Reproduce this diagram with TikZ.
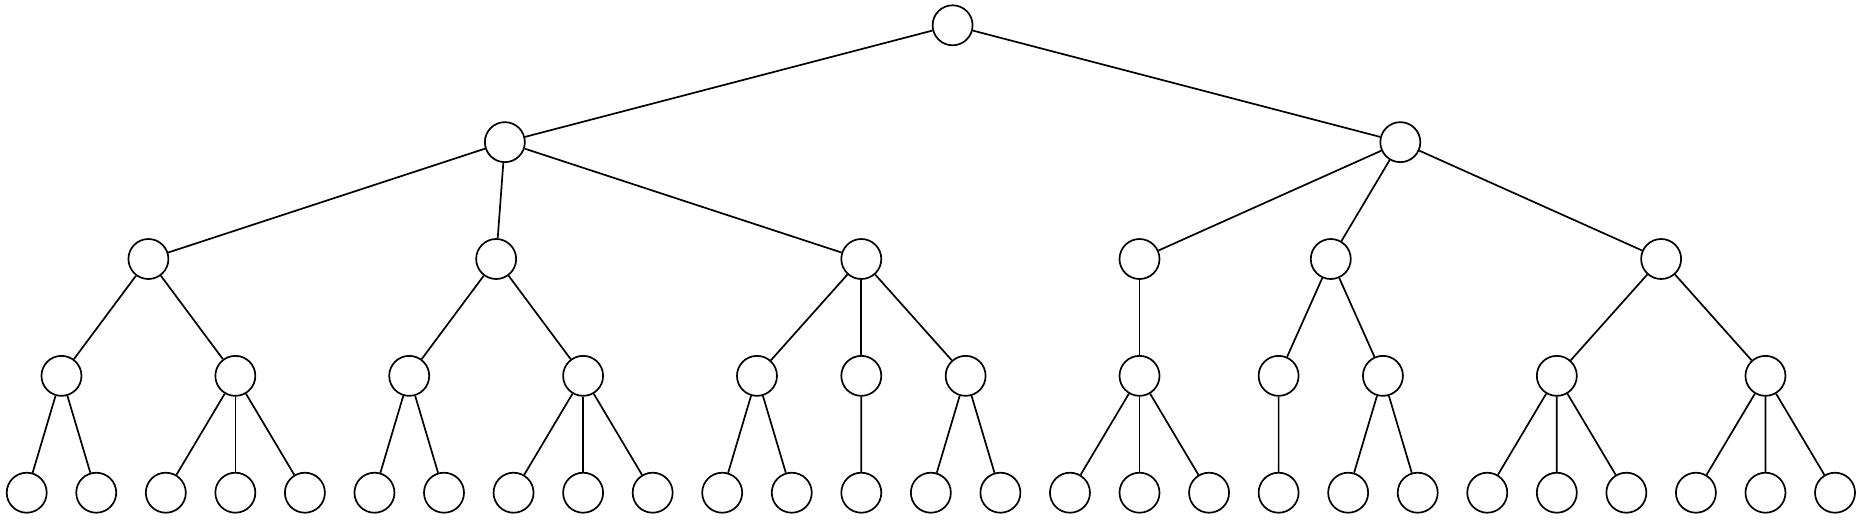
\documentclass[tikz,border=0pt]{standalone}
\begin{document}
\begin{tikzpicture}[x=0.5pt,y=-0.5pt,
  treenode/.style={circle,draw,line width=0.85pt,minimum size=20pt,inner sep=0pt},
  edge/.style={line width=0.85pt}]
\useasboundingbox (0,0) rectangle (1862,520);
% leaves
\foreach \i in {0,...,26} \node[treenode] (l\i) at ({26.7+69.55*\i},492.7) {};
% level 3
\node[treenode] (a0) at (61.475,375.85) {};
\node[treenode] (a1) at (235.35,375.85) {};
\node[treenode] (a2) at (409.225,375.85) {};
\node[treenode] (a3) at (583.1,375.85) {};
\node[treenode] (a4) at (756.975,375.85) {};
\node[treenode] (a5) at (861.3,375.85) {};
\node[treenode] (a6) at (965.625,375.85) {};
\node[treenode] (a7) at (1139.5,375.85) {};
\node[treenode] (a8) at (1278.6,375.85) {};
\node[treenode] (a9) at (1382.925,375.85) {};
\node[treenode] (a10) at (1556.8,375.85) {};
\node[treenode] (a11) at (1765.45,375.85) {};
% level 2
\node[treenode] (b0) at (148.41,259.0) {};
\node[treenode] (b1) at (496.16,259.0) {};
\node[treenode] (b2) at (861.3,259.0) {};
\node[treenode] (b3) at (1139.5,259.0) {};
\node[treenode] (b4) at (1330.76,259.0) {};
\node[treenode] (b5) at (1661.125,259.0) {};
% level 1
\node[treenode] (c0) at (504.86,142.15) {};
\node[treenode] (c1) at (1400.31,142.15) {};
% root
\node[treenode] (r) at (952.59,25.3) {};
% edges
\draw[edge] (r) -- (c0);
\draw[edge] (r) -- (c1);
\foreach \p/\c in {c0/b0,c0/b1,c0/b2,c1/b3,c1/b4,c1/b5,
  b0/a0,b0/a1,b1/a2,b1/a3,b2/a4,b2/a5,b2/a6,b3/a7,b4/a8,b4/a9,b5/a10,b5/a11,
  a0/l0,a0/l1,a1/l2,a1/l3,a1/l4,a2/l5,a2/l6,a3/l7,a3/l8,a3/l9,
  a4/l10,a4/l11,a5/l12,a6/l13,a6/l14,a7/l15,a7/l16,a7/l17,a8/l18,
  a9/l19,a9/l20,a10/l21,a10/l22,a10/l23,a11/l24,a11/l25,a11/l26}
  \draw[edge] (\p) -- (\c);
\end{tikzpicture}
\end{document}
